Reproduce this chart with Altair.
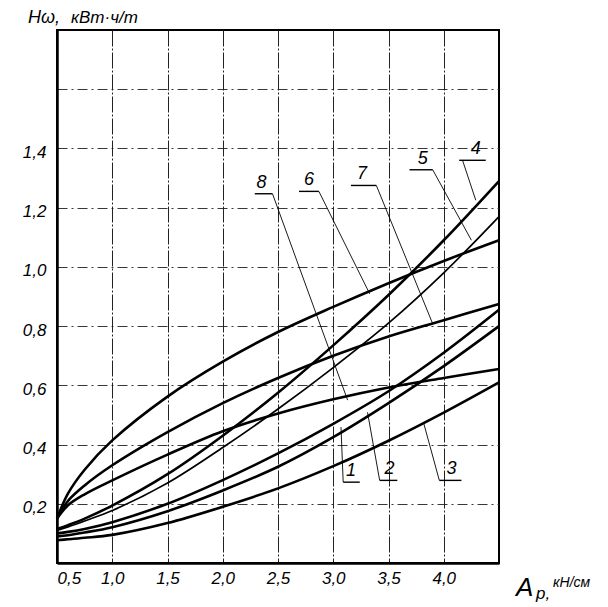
import altair as alt
import pandas as pd

# ---- data ----
A = [0.5, 0.6, 0.75, 1.0, 1.5, 2.0, 2.5, 3.0, 3.5, 4.0, 4.5]

curve_1 = [0.100, 0.105, 0.115, 0.138, 0.200, 0.280, 0.370, 0.470, 0.580, 0.710, 0.855]
curve_2 = [0.090, 0.094, 0.103, 0.121, 0.175, 0.245, 0.325, 0.425, 0.540, 0.665, 0.800]
curve_3 = [0.077, 0.080, 0.085, 0.095, 0.135, 0.190, 0.252, 0.327, 0.413, 0.508, 0.610]
curve_4 = [0.115, 0.128, 0.150, 0.194, 0.300, 0.430, 0.575, 0.735, 0.905, 1.090, 1.290]
curve_5 = [0.110, 0.122, 0.142, 0.177, 0.270, 0.390, 0.520, 0.660, 0.810, 0.980, 1.170]
curve_6 = [0.150, 0.235, 0.315, 0.414, 0.562, 0.680, 0.780, 0.865, 0.945, 1.020, 1.090]
curve_7 = [0.150, 0.210, 0.262, 0.330, 0.442, 0.540, 0.625, 0.700, 0.765, 0.820, 0.875]
curve_8 = [0.150, 0.195, 0.232, 0.279, 0.366, 0.445, 0.505, 0.553, 0.593, 0.625, 0.655]

curve_names = ["1", "2", "3", "4", "5", "6", "7", "8"]
curve_values = [curve_1, curve_2, curve_3, curve_4, curve_5, curve_6, curve_7, curve_8]

x_ticks = [0.5, 1.0, 1.5, 2.0, 2.5, 3.0, 3.5, 4.0]
y_ticks = [0.2, 0.4, 0.6, 0.8, 1.0, 1.2, 1.4, 1.6]

# curve labels: text centre, underline ends, leader end (data units)
lab_text_a = [3.16, 3.51, 4.07, 4.29, 3.81, 2.78, 3.26, 2.35]
lab_under_a1 = [3.09, 3.42, 3.96, 4.14, 3.69, 2.69, 3.16, 2.29]
lab_under_a2 = [3.24, 3.58, 4.16, 4.38, 3.90, 2.87, 3.39, 2.45]
lab_under_v = [0.273, 0.279, 0.279, 1.360, 1.328, 1.255, 1.275, 1.247]
lead_a1 = [3.09, 3.42, 3.96, 4.17, 3.90, 2.87, 3.39, 2.45]
lead_a2 = [3.07, 3.31, 3.82, 4.29, 4.25, 3.33, 3.90, 3.13]
lead_v2 = [0.459, 0.509, 0.470, 1.225, 1.090, 0.909, 0.808, 0.550]

y_title = ["Hω,", "кВт·ч/т"]
x_title = ["A", "р,", "кН/см"]

# ---- tables ----
rows = []
for name, vals in zip(curve_names, curve_values):
    for a, v in zip(A, vals):
        rows.append({"curve": name, "a": a, "v": v})
df = pd.DataFrame(rows)

labels = pd.DataFrame({
    "name": curve_names,
    "ta": lab_text_a,
    "ua1": lab_under_a1,
    "ua2": lab_under_a2,
    "uv": lab_under_v,
    "la1": lead_a1,
    "la2": lead_a2,
    "lv2": lead_v2,
})

FONT = "Liberation Sans"
xs = alt.Scale(domain=[0.5, 4.5], nice=False, zero=False)
ys = alt.Scale(domain=[0, 1.8], nice=False, zero=False)

x_axis = alt.Axis(
    values=x_ticks, title=None, grid=True, ticks=False,
    labelExpr="replace(format(datum.value, '.1f'), '.', ',')",
    labelFlush=True, labelPadding=7, labelFontSize=17,
    labelFont=FONT, labelFontStyle="italic", labelColor="black",
    gridColor="#222", gridWidth=1, gridDash=[16, 2, 2, 2],
    domainColor="black", domainWidth=2.5,
)
y_axis = alt.Axis(
    values=y_ticks, title=None, grid=True, ticks=False,
    labelExpr="datum.value > 1.5 ? '' : replace(format(datum.value, '.1f'), '.', ',')",
    labelPadding=11, labelFontSize=17, labelOffset=4,
    labelFont=FONT, labelFontStyle="italic", labelColor="black",
    gridColor="#222", gridWidth=0.9, gridDash=[10, 4, 2, 4],
    domainColor="black", domainWidth=2.5,
)

X = alt.X("a:Q", scale=xs, axis=x_axis)
Y = alt.Y("v:Q", scale=ys, axis=y_axis)

thick = alt.Chart(df).transform_filter(alt.datum.curve != "5").mark_line(
    color="black", strokeWidth=2.6, interpolate="catmull-rom"
).encode(x=X, y=Y, detail="curve:N")

thin = alt.Chart(df).transform_filter(alt.datum.curve == "5").mark_line(
    color="black", strokeWidth=1.7, interpolate="catmull-rom"
).encode(x=X, y=Y, detail="curve:N")

underlines = alt.Chart(labels).mark_rule(color="black", strokeWidth=1.4).encode(
    x=alt.X("ua1:Q", scale=xs, axis=x_axis), x2="ua2:Q",
    y=alt.Y("uv:Q", scale=ys, axis=y_axis), y2="uv:Q",
)
leaders = alt.Chart(labels).mark_rule(color="black", strokeWidth=0.9).encode(
    x=alt.X("la1:Q", scale=xs, axis=x_axis), x2="la2:Q",
    y=alt.Y("uv:Q", scale=ys, axis=y_axis), y2="lv2:Q",
)
label_text = alt.Chart(labels).mark_text(
    font=FONT, fontStyle="italic", fontSize=18, baseline="bottom", dy=-2, color="black"
).encode(
    x=alt.X("ta:Q", scale=xs, axis=x_axis),
    y=alt.Y("uv:Q", scale=ys, axis=y_axis),
    text="name:N",
)

yt1 = alt.Chart(pd.DataFrame({"t": [y_title[0]]})).mark_text(
    font=FONT, fontStyle="italic", fontSize=18, align="left", baseline="alphabetic", color="black"
).encode(x=alt.value(-29), y=alt.value(-7), text="t:N")
yt2 = alt.Chart(pd.DataFrame({"t": [y_title[1]]})).mark_text(
    font=FONT, fontStyle="italic", fontSize=17, align="left", baseline="alphabetic", color="black"
).encode(x=alt.value(14), y=alt.value(-7), text="t:N")

xt1 = alt.Chart(pd.DataFrame({"t": [x_title[0]]})).mark_text(
    font=FONT, fontStyle="italic", fontSize=26, align="left", baseline="alphabetic", color="black"
).encode(x=alt.value(459), y=alt.value(566), text="t:N")
xt2 = alt.Chart(pd.DataFrame({"t": [x_title[1]]})).mark_text(
    font=FONT, fontStyle="italic", fontSize=17, align="left", baseline="alphabetic", color="black"
).encode(x=alt.value(479), y=alt.value(569), text="t:N")
xt3 = alt.Chart(pd.DataFrame({"t": [x_title[2]]})).mark_text(
    font=FONT, fontStyle="italic", fontSize=14, align="left", baseline="alphabetic", color="black"
).encode(x=alt.value(496), y=alt.value(557), text="t:N")

chart = alt.layer(
    thick, thin, underlines, leaders, label_text, yt1, yt2, xt1, xt2, xt3
).properties(
    width=442, height=533, autosize="none",
    padding={"left": 49, "top": 22, "right": 100, "bottom": 40},
    background="white",
).configure_view(stroke="black", strokeWidth=2)

chart.save("out.html", embed_options={"renderer": "svg", "actions": False})
